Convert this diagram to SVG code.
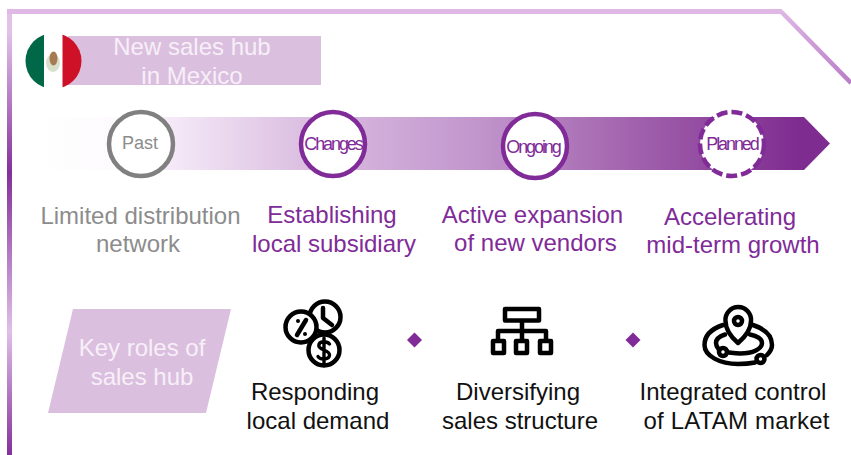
<svg xmlns="http://www.w3.org/2000/svg" width="851" height="455" viewBox="0 0 851 455">
<style>
text{font-family:"Liberation Sans",Arial,sans-serif;text-anchor:middle}
.w{fill:#f7eff8;font-size:24px}
.g{fill:#8c8c8c;font-size:24px}
.p{fill:#802b98;font-size:24px}
.k{fill:#111;font-size:24px}
.c{font-size:18px;letter-spacing:-2.100px;fill:#802b98}
.i{fill:none;stroke:#000;stroke-width:4.500;stroke-linecap:round;stroke-linejoin:round}
.o{fill:#fff;stroke:#000;stroke-width:4.500}
</style>
<defs>
<linearGradient id="bar" x1="40" x2="830" y1="0" y2="0" gradientUnits="userSpaceOnUse">
<stop offset="0" stop-color="#fff"/><stop offset=".1" stop-color="#fdfafd"/><stop offset=".165" stop-color="#f5e9f7"/><stop offset=".33" stop-color="#dcc0e2"/><stop offset=".557" stop-color="#c195cc"/><stop offset=".71" stop-color="#a86db3"/><stop offset=".96" stop-color="#7f2c90"/>
</linearGradient>
<linearGradient id="left" x1="0" x2="0" y1="14" y2="455" gradientUnits="userSpaceOnUse">
<stop offset="0" stop-color="#e3c2ea"/><stop offset=".04" stop-color="#e3c2ea"/><stop offset=".36" stop-color="#84309a"/><stop offset=".72" stop-color="#e0bfe8"/><stop offset="1" stop-color="#84309a"/>
</linearGradient>
<linearGradient id="diag" x1="780" x2="851" y1="10" y2="85" gradientUnits="userSpaceOnUse">
<stop offset="0" stop-color="#dfb8e6"/><stop offset="1" stop-color="#b87cc6"/>
</linearGradient>
<clipPath id="flag"><circle cx="53.500" cy="61" r="28"/></clipPath>
</defs>
<g id="frame">
<rect x="7" y="9" width="5" height="446" fill="url(#left)"/>
<rect x="7" y="9" width="775" height="5" fill="#dfb8e6"/>
<path d="M781 11.500L851 83" fill="none" stroke="url(#diag)" stroke-width="4.500"/>
</g>
<g id="title">
<rect x="68" y="36" width="253" height="49" fill="#dbbfdf"/>
<g clip-path="url(#flag)">
<rect x="25" y="33" width="19" height="56" fill="#006847"/>
<rect x="44" y="33" width="19" height="56" fill="#fff"/>
<rect x="62.500" y="33" width="20" height="56" fill="#ce1126"/>
</g>
<ellipse cx="53" cy="63" rx="7" ry="9" fill="#d8e0cc"/>
<ellipse cx="53.500" cy="58.500" rx="4" ry="7" fill="#a67a52"/>
<text class="w" x="192" y="55">New sales hub</text>
<text class="w" x="192" y="84">in Mexico</text>
</g>
<g id="timeline">
<path d="M40 117H804L830 143.500L804 170H40Z" fill="url(#bar)"/>
</g>
<g id="past">
<circle cx="141" cy="144" r="32" fill="#fff" stroke="#808080" stroke-width="4.500"/>
<text x="140" y="149" style="font-size:18px" fill="#8c8c8c">Past</text>
<text class="g" x="140.500" y="224">Limited distribution</text>
<text class="g" x="138" y="252">network</text>
</g>
<g id="changes">
<circle cx="333" cy="144" r="32" fill="#fff" stroke="#802b98" stroke-width="4.500"/>
<text class="c" x="333" y="150">Changes</text>
<text class="p" x="332" y="223">Establishing</text>
<text class="p" x="334" y="252">local subsidiary</text>
</g>
<g id="ongoing">
<circle cx="535" cy="146" r="32" fill="#fff" stroke="#802b98" stroke-width="4.500"/>
<text class="c" x="533" y="153">Ongoing</text>
<text class="p" x="532.500" y="223">Active expansion</text>
<text class="p" x="535.500" y="251">of new vendors</text>
</g>
<g id="planned">
<circle cx="732" cy="144" r="32" fill="#fff" stroke="#802b98" stroke-width="4.500" stroke-dasharray="11 4"/>
<text class="c" x="732" y="150">Planned</text>
<text class="p" x="730" y="225">Accelerating</text>
<text class="p" x="733" y="253">mid-term growth</text>
</g>
<g id="key-roles">
<path d="M73 309H231L206 413H48Z" fill="#dbbfdf"/>
<text class="w" x="142" y="356">Key roles of</text>
<text class="w" x="142" y="385">sales hub</text>
</g>
<g id="role-demand">
<circle class="o" cx="325" cy="317" r="15.500"/>
<circle class="o" cx="324" cy="350" r="15.500"/>
<circle class="o" cx="301" cy="327" r="15.500"/>
<g class="i">
<path d="M323 308V318L332 325"/>
<path d="M306 320L297 335"/>
<path d="M329.500 344C327 341 319 340.500 318.800 345.500C318.800 350.500 329.500 349.500 329.500 355C329.500 360 320 360 318 356.500M324 338V363" stroke-width="3.400"/>
</g>
<circle cx="298" cy="321" r="2"/><circle cx="305" cy="334" r="2"/>
<text class="k" x="315" y="400">Responding</text>
<text class="k" x="318" y="429">local demand</text>
</g>
<g id="role-structure">
<g class="i">
<rect x="505" y="309" width="34" height="11.500"/>
<path d="M522 321V331M498 340V331H546V340M522 331V340"/>
<rect x="493" y="341" width="11" height="12"/><rect x="516" y="341" width="11" height="12"/><rect x="540" y="341" width="11" height="12"/>
</g>
<text class="k" x="518" y="400">Diversifying</text>
<text class="k" x="520" y="429">sales structure</text>
</g>
<g id="role-control">
<g class="i">
<path d="M738 343C731 337 725.500 329 725.500 321A12.800 12.800 0 1 1 751 321C751 329 745 337 738 343Z"/>
<circle cx="738" cy="321" r="4"/>
<path d="M723 325C711 329 704.500 336 704.500 345C704.500 356 720 364 738 364C744 364 750 363.500 755 362.500M767 355C770 352 772 349 772 345C772 336 765 329 753 325"/>
<path d="M725 334.500C719 336.500 716 339.500 716 343C716 345 717 347 718.500 349M729 352.500C733 353 736 353.500 740 353.500C753 353.500 762 349 762 343C762 339 757 336 750 334.500"/>
<circle cx="723" cy="352" r="4"/><circle cx="760.500" cy="359" r="4"/>
</g>
<text class="k" x="733" y="400">Integrated control</text>
<text class="k" x="736.500" y="429" style="letter-spacing:.2px">of LATAM market</text>
</g>
<g id="separators" fill="#802b98">
<path d="M414.500 332.500L422 340L414.500 347.500L407 340Z"/>
<path d="M633 332.500L640.500 340L633 347.500L625.500 340Z"/>
</g>
<g id="connectors"/>
</svg>
